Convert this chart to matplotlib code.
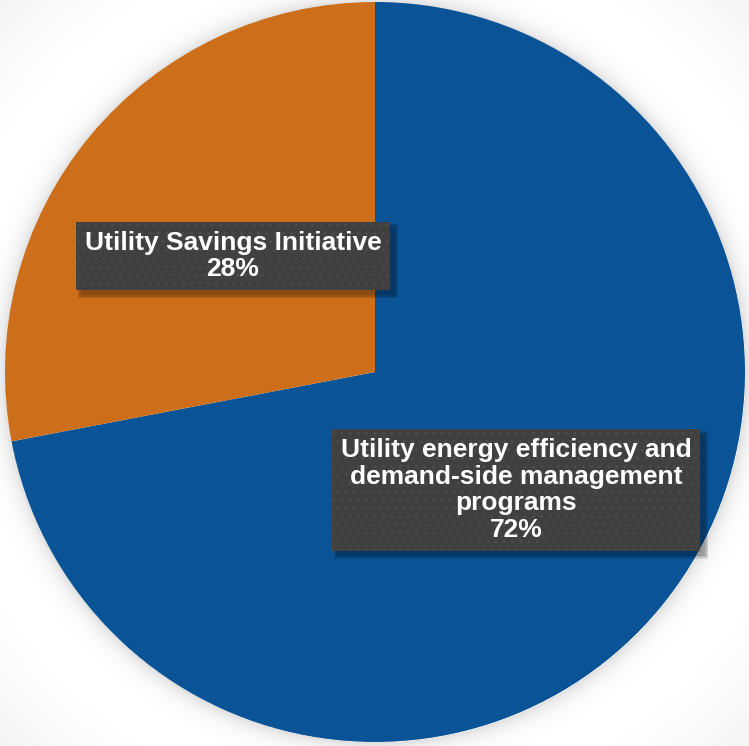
import numpy as np
import matplotlib.pyplot as plt
from matplotlib.patches import Rectangle

plt.rcParams['hatch.color'] = '#4b4b4b'
plt.rcParams['hatch.linewidth'] = 1.0

# Share of savings by source
labels = ['Utility energy efficiency and\ndemand-side management\nprograms',
          'Utility Savings Initiative']
shares = [72, 28]
colors = ['#0A5396', '#CD6F1A']

W, H = 749, 746
cx, cy, R = 375, 372, 370  # pie centre and radius in pixels

fig = plt.figure(figsize=(W / 100, H / 100), dpi=100)
ax = fig.add_axes([0, 0, 1, 1])
ext = [-cx / R, (W - cx) / R, -(H - cy) / R, cy / R]

# soft background: grey corners plus a faint glow round the pie
yy, xx = np.mgrid[0:H, 0:W]
r = np.hypot(xx - cx, yy - cy)
d = np.clip(r - R, 0, None)
shade = 1 - 0.13 * np.exp(-d / 9) * (r > R) - 0.07 * np.clip((r - 430) / 160, 0, 1)
ax.imshow(shade, cmap='gray', vmin=0, vmax=1, zorder=0, extent=ext)

ax.pie(shares, colors=colors, startangle=90, counterclock=False, radius=1,
       center=(0, 0), frame=True, wedgeprops=dict(linewidth=0))
ax.set_xlim(ext[0], ext[1])
ax.set_ylim(ext[2], ext[3])
ax.set_aspect('auto')
ax.axis('off')

# label positions (pixels)
label_pos = [(516, 490), (233, 256)]
boxes = []
for (px, py), lab, val in zip(label_pos, labels, shares):
    x, y = (px - cx) / R, (cy - py) / R
    t = ax.text(x, y, f'{lab}\n{val}%', ha='center', va='center', fontsize=19,
                fontweight='bold', family='Liberation Sans', color='white',
                linespacing=1.15,
                bbox=dict(boxstyle='square,pad=0.33', facecolor='#404040',
                          edgecolor='#4b4b4b', linewidth=0, hatch='..'),
                zorder=4)
    boxes.append(t)

# drop shadows under the label boxes
fig.canvas.draw()
inv = ax.transData.inverted()
for t in boxes:
    bb = t.get_bbox_patch().get_window_extent()
    (x0, y0), (x1, y1) = inv.transform([(bb.x0 + 5, bb.y0 - 5), (bb.x1 + 5, bb.y1 - 5)])
    for k in range(3):
        g = k * 1.5 / R
        ax.add_patch(Rectangle((x0 - g, y0 - g), x1 - x0 + 2 * g, y1 - y0 + 2 * g,
                               facecolor='black', edgecolor='none', alpha=0.12, zorder=3))

fig.savefig('out.png', dpi=100)
